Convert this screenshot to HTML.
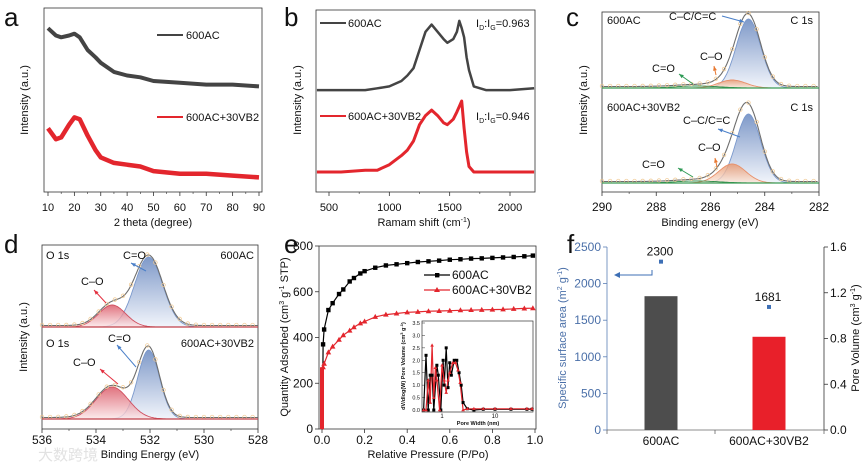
<!DOCTYPE html>
<html><head><meta charset="utf-8">
<style>
body{margin:0;background:#fff}
svg{display:block;font-family:"Liberation Sans",Arial,sans-serif}
text{fill:#111}
</style></head>
<body>
<svg id="fig" width="865" height="467" viewBox="0 0 865 467">
<defs>
<linearGradient id="gBlue" x1="0" y1="0" x2="0" y2="1"><stop offset="0" stop-color="#5f80bb"/><stop offset="1" stop-color="#eef2fa"/></linearGradient>
<linearGradient id="gRed" x1="0" y1="0" x2="0" y2="1"><stop offset="0" stop-color="#d9505f"/><stop offset="1" stop-color="#fbe6e8"/></linearGradient>
<linearGradient id="gOr" x1="0" y1="0" x2="0" y2="1"><stop offset="0" stop-color="#e8956a"/><stop offset="1" stop-color="#fbe8dc"/></linearGradient>
</defs>
</svg>
<script>
// ---------- DATA ----------
const xrdTheta=[10,13,15,18,20,22,25,28,30,35,40,45,50,60,70,80,90];
const xrdGray=[90,86,85,86,87,85,78,74,71,66,64,63,61,60,59,59,58];
const xrdRed=[35,29,30,37,41,40,31,23,19,16,15,14,11.5,10,10,9,8];
const ramanX=[400,600,800,900,1000,1100,1150,1200,1250,1300,1350,1400,1450,1480,1530,1560,1580,1600,1620,1640,1660,1700,1800,2000,2200];
const ramanGray=[56,56,56,57,58,61,64,68,78,88,92,88,84,82,84,88,94,90,85,74,67,58,56,56,57];
const ramanRed=[11,11,12,12,15,20,23,28,37,42,45,42,38,37,40,44,47,50,35,22,14,11,11,11,11];
const c1sCenters=[284.6,285.2,286.5];
const c1sAmpTop=[69,8,2];
const c1sAmpBot=[69,19,2];
const c1sSigma=[0.45,0.5,0.8];
const o1sCenters=[532.05,533.4];
const o1sAmpTop=[70,22];
const o1sAmpBot=[69,32];
const o1sSigmaTop=[0.52,0.5];
const o1sSigmaBot=[0.4,0.6];
const isoP=[0.005,0.01,0.03,0.05,0.08,0.1,0.13,0.15,0.18,0.2,0.25,0.3,0.35,0.4,0.45,0.5,0.55,0.6,0.65,0.7,0.75,0.8,0.85,0.9,0.95,0.99];
const isoBlack=[370,435,520,550,590,610,645,660,680,690,705,715,720,725,730,733,736,740,742,745,746,748,750,752,755,758];
const isoRed=[270,285,335,360,390,410,430,445,462,470,490,500,505,510,512,515,516,517,519,520,521,522,523,525,527,528];
const psdWBlack=[0.45,0.5,0.55,0.6,0.65,0.7,0.8,0.85,0.95,1.05,1.1,1.2,1.3,1.4,1.5,1.7,1.9,2.1,2.3,2.5,3,4,6,10,20,40,50];
const psdBlack=[0,2.2,0,1.4,1.4,0,1.8,1.4,0,2.0,1.0,2.5,0.9,1.9,1.4,2.0,2.0,1.5,1.0,0.3,0.05,0,0.03,0.03,0.03,0.03,0.03];
const psdWRed=[0.45,0.5,0.55,0.6,0.65,0.7,0.75,0.8,0.9,1.0,1.1,1.2,1.3,1.4,1.6,1.8,2.0,2.2,2.5,3,4,6,10,20,40,50];
const psdRed=[0,0,1.2,0.3,2.6,0.5,1.7,1.2,0,1.8,1.2,0.7,1.2,1.5,1.9,1.9,1.6,1.1,0,0.05,0.05,0.05,0.05,0.05,0.05,0.05];
const barCats=["600AC","600AC+30VB2"];
const poreVol=[1.17,0.815];
const surfArea=[2300,1681];

// ---------- HELPERS ----------
const svg=document.getElementById('fig');
const NS="http://www.w3.org/2000/svg";
function el(tag,attrs,parent){const e=document.createElementNS(NS,tag);for(const k in attrs)e.setAttribute(k,attrs[k]);(parent||svg).appendChild(e);return e;}
function txt(s,x,y,o,parent){o=o||{};const t=el('text',{x:x,y:y,'font-size':o.fs||11,'text-anchor':o.a||'middle'},parent);if(o.fill)t.setAttribute('style','fill:'+o.fill);if(o.rot)t.setAttribute('transform','rotate(-90 '+x+' '+y+')');t.innerHTML=s;return t;}
function lin(d0,d1,r0,r1){return v=>r0+(v-d0)*(r1-r0)/(d1-d0);}
function group(name){const g=el('g',{});return g;}
function box(g,x0,y0,x1,y1){el('rect',{x:x0,y:y0,width:x1-x0,height:y1-y0,fill:'none',stroke:'#333','stroke-width':0.8},g);}
function pathFrom(xs,ys,sx,sy){return xs.map((v,i)=>(i?'L':'M')+sx(v).toFixed(1)+','+sy(ys[i]).toFixed(1)).join('');}
function gauss(x,c,a,s){return a*Math.exp(-((x-c)*(x-c))/(2*s*s));}
function label(s,x,y,name){const t=txt(s,x,y,{fs:26,a:'start'});}

// ---------- PANEL A ----------
(function(){
const g=group('panel-a-xrd');
const sx=lin(10,90,48,259), sy=lin(0,100,192,10);
box(g,44,8,262,192);
for(let v=10;v<=90;v+=10){el('line',{x1:sx(v),x2:sx(v),y1:192,y2:196,stroke:'#333','stroke-width':0.8},g);txt(v,sx(v),211,{},g);}
for(let v=15;v<=85;v+=10)el('line',{x1:sx(v),x2:sx(v),y1:192,y2:194,stroke:'#333','stroke-width':0.6},g);
txt('2 theta (degree)',153,226,{},g);
txt('Intensity (a.u.)',28,100,{rot:1},g);
const p1=el('path',{d:pathFrom(xrdTheta,xrdGray,sx,sy),fill:'none',stroke:'#444','stroke-width':4,'stroke-linejoin':'round'},g);

const p2=el('path',{d:pathFrom(xrdTheta,xrdRed,sx,sy),fill:'none',stroke:'#e3262d','stroke-width':4.5,'stroke-linejoin':'round'},g);

el('line',{x1:157,x2:183,y1:35,y2:35,stroke:'#444','stroke-width':2},g);txt('600AC',186,39,{a:'start'},g);
el('line',{x1:157,x2:183,y1:117,y2:117,stroke:'#e3262d','stroke-width':2},g);txt('600AC+30VB2',186,121,{a:'start'},g);
label('a',4,26,'panel-label-a');
})();

// ---------- PANEL B ----------
(function(){
const g=group('panel-b-raman');
const sx=lin(500,2000,329,510), sy=lin(0,100,192,10);
box(g,316,10,535,192);
for(let v=500;v<=2000;v+=500){el('line',{x1:sx(v),x2:sx(v),y1:192,y2:196,stroke:'#333','stroke-width':0.8},g);txt(v,sx(v),211,{},g);}
for(let v=750;v<=2000;v+=500)el('line',{x1:sx(v),x2:sx(v),y1:192,y2:194,stroke:'#333','stroke-width':0.6},g);
txt('Ramam shift (cm<tspan font-size="7" dy="-4">-1</tspan><tspan dy="4">)</tspan>',424,226,{},g);
txt('Intensity (a.u.)',301,100,{rot:1},g);
const p1=el('path',{d:pathFrom(ramanX,ramanGray,sx,sy),fill:'none',stroke:'#444','stroke-width':2.5,'stroke-linejoin':'round'},g);

const p2=el('path',{d:pathFrom(ramanX,ramanRed,sx,sy),fill:'none',stroke:'#e3262d','stroke-width':3,'stroke-linejoin':'round'},g);

el('line',{x1:320,x2:346,y1:23,y2:23,stroke:'#444','stroke-width':2},g);txt('600AC',348,27,{a:'start'},g);
el('line',{x1:320,x2:346,y1:116,y2:116,stroke:'#e3262d','stroke-width':2},g);txt('600AC+30VB2',348,120,{a:'start'},g);
txt('I<tspan font-size="7" dy="3">D</tspan><tspan dy="-3">:I</tspan><tspan font-size="7" dy="3">G</tspan><tspan dy="-3">=0.963</tspan>',476,27,{a:'start'},g);
txt('I<tspan font-size="7" dy="3">D</tspan><tspan dy="-3">:I</tspan><tspan font-size="7" dy="3">G</tspan><tspan dy="-3">=0.946</tspan>',476,120,{a:'start'},g);
label('b',284,26,'panel-label-b');
})();

// ---------- XPS helper ----------
function xpsStack(g,sx,x0,x1,base,centers,amps,sigmas,fills,strokes,gray){
  const xs=[];for(let v=x0;v>=x1;v-=0.05)xs.push(v);
  centers.forEach((c,k)=>{
    let d='M'+sx(xs[0])+','+base;xs.forEach(v=>{d+='L'+sx(v).toFixed(1)+','+(base-gauss(v,c,amps[k],sigmas[k])).toFixed(1);});d+='L'+sx(xs[xs.length-1])+','+base+'Z';
    const p=el('path',{d:d,fill:fills[k],stroke:strokes[k],'stroke-width':0.9,'fill-opacity':0.8},g);
    
  });
  let env='';xs.forEach((v,i)=>{let s=0;centers.forEach((c,k)=>s+=gauss(v,c,amps[k],sigmas[k]));env+=(i?'L':'M')+sx(v).toFixed(1)+','+(base-s-1.5).toFixed(1);});
  const e=el('path',{d:env,fill:'none',stroke:'#6e6e6e','stroke-width':1.1},g);
  
  for(let i=0;i<xs.length;i+=6){let s=0;centers.forEach((c,k)=>s+=gauss(xs[i],c,amps[k],sigmas[k]));
    el('circle',{cx:sx(xs[i]),cy:base-s-2,r:1.8,fill:'none',stroke:'#f0c890','stroke-width':0.7},g);}
  el('line',{x1:sx(x0),x2:sx(x1),y1:base,y2:base,stroke:gray,'stroke-width':1.2},g);
}
function arrow(g,x1,y1,x2,y2,col){el('line',{x1:x1,y1:y1,x2:x2,y2:y2,stroke:col,'stroke-width':1},g);
  const a=Math.atan2(y2-y1,x2-x1),L=5;el('path',{d:`M${x2},${y2}L${x2-L*Math.cos(a-0.4)},${y2-L*Math.sin(a-0.4)}L${x2-L*Math.cos(a+0.4)},${y2-L*Math.sin(a+0.4)}Z`,fill:col},g);}

// ---------- PANEL C ----------
(function(){
const g=group('panel-c-c1s');
const sx=lin(290,282,602,819);
box(g,602,12,819,192);
for(let v=290;v>=282;v-=2){el('line',{x1:sx(v),x2:sx(v),y1:192,y2:196,stroke:'#333','stroke-width':0.8},g);txt(v,sx(v),211,{fs:12},g);}
for(let v=289;v>=283;v-=2)el('line',{x1:sx(v),x2:sx(v),y1:192,y2:194,stroke:'#333','stroke-width':0.6},g);
txt('Binding energy (eV)',710,226,{},g);
txt('Intensity (a.u.)',587,100,{rot:1},g);
xpsStack(g,sx,290,282,88,c1sCenters,c1sAmpTop,c1sSigma,['url(#gBlue)','url(#gOr)','none'],['#7a98cc','#e8906a','#2e8b4a'],'#3a9a55');
xpsStack(g,sx,290,282,183,c1sCenters,c1sAmpBot,c1sSigma,['url(#gBlue)','url(#gOr)','none'],['#7a98cc','#e8906a','#2e8b4a'],'#3a9a55');
txt('600AC',607,24,{a:'start'},g);txt('C 1s',813,24,{a:'end'},g);
txt('C–C/C=C',669,20,{a:'start'},g);arrow(g,722,16,744,22,'#4a7fc8');
txt('C–O',700,60,{a:'start'},g);arrow(g,716,75,714,66,'#e87830');
txt('C=O',652,72,{a:'start'},g);arrow(g,693,84,679,74,'#2e9a55');
txt('600AC+30VB2',607,111,{a:'start'},g);txt('C 1s',813,111,{a:'end'},g);
txt('C–C/C=C',683,124,{a:'start'},g);arrow(g,740,137,718,129,'#4a7fc8');
txt('C–O',698,151,{a:'start'},g);arrow(g,717,167,715,158,'#e87830');
txt('C=O',642,168,{a:'start'},g);arrow(g,693,177,678,168,'#2e9a55');
label('c',566,26,'panel-label-c');
})();

// ---------- PANEL D ----------
(function(){
const g=group('panel-d-o1s');
const sx=lin(536,528,42,258);
box(g,42,245,258,429);
for(let v=536;v>=528;v-=2){el('line',{x1:sx(v),x2:sx(v),y1:429,y2:433,stroke:'#333','stroke-width':0.8},g);txt(v,sx(v),444,{fs:12},g);}
for(let v=535;v>=529;v-=2)el('line',{x1:sx(v),x2:sx(v),y1:429,y2:431,stroke:'#333','stroke-width':0.6},g);
txt('Binding Energy (eV)',150,458,{},g);
txt('Intensity (a.u.)',27,337,{rot:1},g);
xpsStack(g,sx,536,528,327,o1sCenters,o1sAmpTop,o1sSigmaTop,['url(#gBlue)','url(#gRed)'],['#7a98cc','#d05060'],'#c0404a');
xpsStack(g,sx,536,528,419,o1sCenters,o1sAmpBot,o1sSigmaBot,['url(#gBlue)','url(#gRed)'],['#7a98cc','#d05060'],'#c0404a');
txt('O 1s',46,259,{a:'start'},g);txt('600AC',254,259,{a:'end'},g);
txt('C=O',123,259,{a:'start'},g);arrow(g,146,271,131,263,'#4a7fc8');
txt('C–O',81,285,{a:'start'},g);arrow(g,106,303,94,290,'#e33040');
txt('O 1s',46,347,{a:'start'},g);txt('600AC+30VB2',254,347,{a:'end'},g);
txt('C=O',108,342,{a:'start'},g);arrow(g,136,367,117,345,'#4a7fc8');
txt('C–O',73,366,{a:'start'},g);arrow(g,118,384,100,369,'#e33040');
label('d',4,253,'panel-label-d');
const w=txt('大数跨境',38,460,{fs:15,a:'start',fill:'#e2e2e2'},g);w.setAttribute('font-family','"Liberation Sans","Noto Sans CJK SC",sans-serif');

})();

// ---------- PANEL E ----------
(function(){
const g=group('panel-e-isotherm');
const sx=lin(0,1,322,535), sy=lin(0,800,429,246);
box(g,319,246,536,429);
for(let v=0;v<=1.001;v+=0.2){el('line',{x1:sx(v),x2:sx(v),y1:429,y2:433,stroke:'#333','stroke-width':0.8},g);txt(v.toFixed(1),sx(v),444,{fs:12},g);}
for(let v=0;v<=800;v+=200){el('line',{x1:315,x2:319,y1:sy(v),y2:sy(v),stroke:'#333','stroke-width':0.8},g);txt(v,313,sy(v)+4,{fs:12,a:'end'},g);}
txt('Relative Pressure (P/Po)',428,458,{},g);
txt('Quantity Adsorbed (cm<tspan font-size="7" dy="-4">3</tspan><tspan dy="4"> g</tspan><tspan font-size="7" dy="-4">-1</tspan><tspan dy="4"> STP)</tspan>',288,337,{rot:1},g);
const bx=[0,0.002].concat(isoP), bk=[0,0].concat(isoBlack), rk=[0,0].concat(isoRed);
const l1=el('path',{d:pathFrom(bx,bk,sx,sy),fill:'none',stroke:'#000','stroke-width':1.2},g);

const l2=el('path',{d:pathFrom(bx,rk,sx,sy),fill:'none',stroke:'#e3262d','stroke-width':1.2},g);

el('rect',{x:sx(0)-2,y:sy(270),width:4,height:sy(0)-sy(270),fill:'#e3262d'},g);
isoP.forEach((p,i)=>{
  el('rect',{x:sx(p)-2.2,y:sy(isoBlack[i])-2.2,width:4.4,height:4.4,fill:'#000'},g);
  const x=sx(p),y=sy(isoRed[i]);el('path',{d:`M${x},${y-3}L${x+2.8},${y+2}L${x-2.8},${y+2}Z`,fill:'#e3262d'},g);
});
el('line',{x1:424,x2:450,y1:275,y2:275,stroke:'#000','stroke-width':1.2},g);el('rect',{x:435,y:273,width:4.4,height:4.4,fill:'#000'},g);txt('600AC',452,279,{a:'start',fs:12},g);
el('line',{x1:424,x2:450,y1:290,y2:290,stroke:'#e3262d','stroke-width':1.2},g);el('path',{d:'M437,287L440,292L434,292Z',fill:'#e3262d'},g);txt('600AC+30VB2',452,294,{a:'start',fs:12},g);
const ig=group('inset-pore-size-distribution');
const lx=v=>442+53*Math.log10(v), ly=lin(0,3.5,410,323);
el('rect',{x:422,y:321,width:111,height:91,fill:'#fff',stroke:'#333','stroke-width':0.7},ig);
for(let v=0;v<=3.5;v+=0.5){el('line',{x1:422,x2:425,y1:ly(v),y2:ly(v),stroke:'#333','stroke-width':0.5},ig);txt(v.toFixed(1),420,ly(v)+2,{fs:5.5,a:'end'},ig);}
[1,10].forEach(v=>txt(v,lx(v),418,{fs:6},ig));
txt('<tspan font-weight="bold">Pore Width (nm)</tspan>',478,425,{fs:5.5},ig);
txt('<tspan font-weight="bold">dV/dlog(W) Pore Volume (cm<tspan font-size="4" dy="-2">3</tspan><tspan dy="2"> g</tspan><tspan font-size="4" dy="-2">-1</tspan><tspan dy="2">)</tspan></tspan>',405,366,{fs:5.5,rot:1},ig);
const ib=el('path',{d:pathFrom(psdWBlack,psdBlack,lx,ly),fill:'none',stroke:'#000','stroke-width':1.2},ig);

const ir=el('path',{d:pathFrom(psdWRed,psdRed,lx,ly),fill:'none',stroke:'#e3262d','stroke-width':1.2},ig);

psdWBlack.forEach((w,i)=>el('rect',{x:lx(w)-1.5,y:ly(psdBlack[i])-1.5,width:3,height:3,fill:'#000'},ig));
psdWRed.forEach((w,i)=>{const x=lx(w),y=ly(psdRed[i]);el('path',{d:`M${x},${y-2}L${x+1.8},${y+1.3}L${x-1.8},${y+1.3}Z`,fill:'#e3262d'},ig);});
label('e',284,253,'panel-label-e');
})();

// ---------- PANEL F ----------
(function(){
const g=group('panel-f-surface-area');
const sy=lin(0,2500,430,247), sy2=lin(0,1.6,430,247);
const cx=[661,769];
el('line',{x1:607,x2:607,y1:247,y2:430,stroke:'#5b7fb5','stroke-width':0.8},g);
el('line',{x1:824,x2:824,y1:247,y2:430,stroke:'#333','stroke-width':0.8},g);
el('line',{x1:607,x2:824,y1:430,y2:430,stroke:'#666','stroke-width':0.8},g);
for(let v=0;v<=2500;v+=500){el('line',{x1:603,x2:607,y1:sy(v),y2:sy(v),stroke:'#5b7fb5','stroke-width':0.8},g);txt(v,601,sy(v)+4,{fs:12,a:'end',fill:'#4a6fa8'},g);}
for(let v=0;v<=1.61;v+=0.4){el('line',{x1:824,x2:828,y1:sy2(v),y2:sy2(v),stroke:'#333','stroke-width':0.8},g);txt(v.toFixed(1),830,sy2(v)+4,{fs:12,a:'start'},g);}
[607,715,824].forEach(x=>el('line',{x1:x,x2:x,y1:430,y2:434,stroke:'#666','stroke-width':0.8},g));
txt('Specific surface area (m<tspan font-size="7" dy="-4">2</tspan><tspan dy="4"> g</tspan><tspan font-size="7" dy="-4">-1</tspan><tspan dy="4">)</tspan>',566,338,{rot:1,fill:'#4a6fa8'},g);
txt('Pore Volume (cm<tspan font-size="7" dy="-4">3</tspan><tspan dy="4"> g</tspan><tspan font-size="7" dy="-4">-1</tspan><tspan dy="4">)</tspan>',859,338,{rot:1},g);
const cols=['#4d4d4d','#e8202a'];
barCats.forEach((c,i)=>{
  const b=el('rect',{x:cx[i]-16.5,y:sy2(poreVol[i]),width:33,height:430-sy2(poreVol[i]),fill:cols[i]},g);
  
  txt(c,cx[i],445,{fs:12},g);
  const p=el('rect',{x:cx[i]-2,y:sy(surfArea[i])-2,width:4,height:4,fill:'#3d6fb5'},g);
  
  txt(surfArea[i],cx[i]-1,sy(surfArea[i])-6,{fs:12},g);
});
el('path',{d:'M652,270L652,275L617,275',fill:'none',stroke:'#3d6fb5','stroke-width':1},g);
el('path',{d:'M614,275L620,272L620,278Z',fill:'#3d6fb5'},g);
label('f',567,253,'panel-label-f');
})();
</script>
</body></html>
